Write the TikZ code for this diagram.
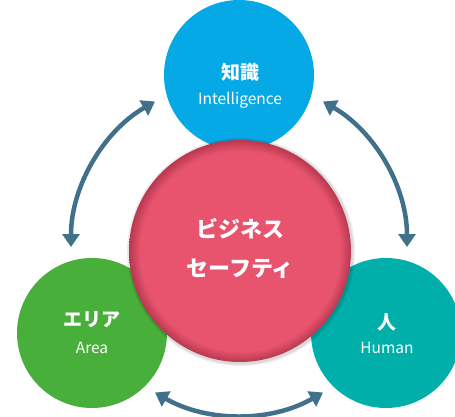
\documentclass[tikz,border=0pt]{standalone}
\usepackage{fontspec}
\setmainfont{Noto Sans CJK JP}
\usetikzlibrary{arrows.meta}
\definecolor{bluec}{HTML}{05A9E6}
\definecolor{greenc}{HTML}{48B03A}
\definecolor{tealc}{HTML}{00AFAA}
\definecolor{pinkc}{HTML}{E8546E}
\definecolor{pinkd}{HTML}{B8384F}
\definecolor{arrc}{HTML}{41718A}
\pgfdeclareradialshading{pinkball}{\pgfpoint{0bp}{0bp}}{color(0bp)=(pinkc); color(22.5bp)=(pinkc); color(25bp)=(pinkd); color(50bp)=(pinkd)}
\begin{document}
\begin{tikzpicture}[x=1pt,y=1pt,
  sat/.style={circle, minimum size=150pt, inner sep=0pt, draw=none},
  jp/.style={text=white, font=\fontsize{19}{22}\selectfont\bfseries},
  en/.style={text=white, font=\fontsize{15.5}{18}\selectfont},
  arr/.style={draw=arrc, line width=4.5pt, {Triangle[width=17pt,length=13pt]}-{Triangle[width=17pt,length=13pt]}}]
\useasboundingbox (0,0) rectangle (455,416);
\coordinate (c) at (239,169);
% satellites
\node[sat, fill=bluec] (know) at (239,341) {};
\node[sat, fill=greenc] (area) at (92,83) {};
\node[sat, fill=tealc] (hum) at (386,83) {};
% labels
\node[jp] (knowj) at (240,344) {知識};
\node[en] (knowe) at (240,316) {Intelligence};
\node[jp] (areaj) at (92,96) {エリア};
\node[en] (areae) at (92,68) {Area};
\node[jp] (humj) at (387,94) {人};
\node[en] (hume) at (387,68) {Human};
% center shadow + ball
\fill[black, opacity=0.08] (241,164) circle (114);
\fill[black, opacity=0.08] (241,164) circle (112.5);
\node[circle, minimum size=222pt, inner sep=0pt, shading=pinkball] (core) at (240,165) {};
\node[text=white, font=\fontsize{22}{39}\selectfont\bfseries, align=center] (corel) at (240,168) {ビジネス\\セーフティ};
% arrows
\draw[arr] (c) ++(180:168) arc[start angle=180, end angle=120, radius=168];
\draw[arr] (c) ++(60:168) arc[start angle=60, end angle=0, radius=168];
\draw[arr] (c) ++(240:168) arc[start angle=240, end angle=300, radius=168];
\end{tikzpicture}
\end{document}
